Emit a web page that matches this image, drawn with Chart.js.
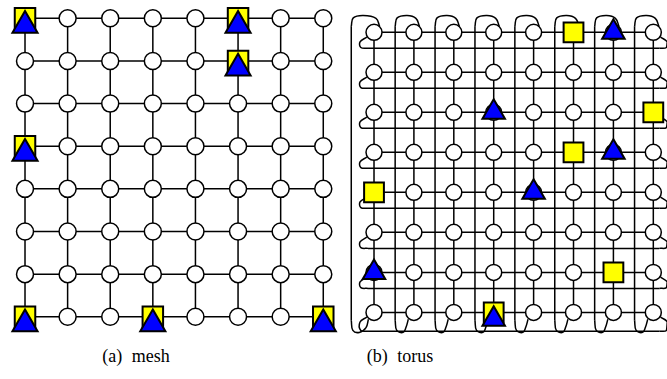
<!DOCTYPE html>
<html>
<head>
<meta charset="utf-8">
<script src="https://cdn.jsdelivr.net/npm/chart.js@4.4.1/dist/chart.umd.min.js"></script>
<style>
  body { margin: 0; background: #fff; width: 667px; height: 379px; overflow: hidden; position: relative; }
  canvas { position: absolute; top: 0; }
  #meshChart { left: 0; }
  #torusChart { left: 345px; }
  .caption {
    position: absolute; top: 347px; width: 200px; margin-left: -100px;
    text-align: center; font-family: "Liberation Serif", "Times New Roman", serif;
    font-size: 18px; line-height: 18px; word-spacing: 5px; color: #000;
  }
</style>
</head>
<body>
<canvas id="meshChart" width="345" height="340"></canvas>
<canvas id="torusChart" width="322" height="340"></canvas>
<div class="caption" style="left:136px">(a) mesh</div>
<div class="caption" style="left:400px">(b) torus</div>
<script>
// Grid size (8 x 8 nodes)
const cols = [0, 1, 2, 3, 4, 5, 6, 7];
const rows = [0, 1, 2, 3, 4, 5, 6, 7];

// Marked nodes [column, row]
const meshSquares = [[0, 0], [5, 0], [5, 1], [0, 3], [0, 7], [3, 7], [7, 7]];
const meshTriangles = [[0, 0], [5, 0], [5, 1], [0, 3], [0, 7], [3, 7], [7, 7]];
const torusSquares = [[5, 0], [7, 2], [5, 3], [0, 4], [6, 6], [3, 7]];
const torusTriangles = [[6, 0], [3, 2], [6, 3], [4, 4], [0, 6], [3, 7]];

// triangle drawn a bit lower when it shares a node with a square
const TRI_SHIFT = 0.17;

function toPts(list) {
    return list.map(p => ({ x: p[0], y: p[1] }));
}

function shiftedTriangles(tris, squares) {
    return tris.map(t => {
        const shared = squares.some(s => s[0] === t[0] && s[1] === t[1]);
        return { x: t[0], y: t[1] + (shared ? TRI_SHIFT : 0) };
    });
}

function lineSet(data, tension) {
    return {
        data: data,
        showLine: true,
        borderColor: '#000',
        borderWidth: 1.5,
        pointRadius: 0,
        tension: tension || 0,
        fill: false,
        clip: false,
        order: 10
    };
}

// Mesh edges: one line per row and per column
function gridLines() {
    const sets = [];
    rows.forEach(r => sets.push(lineSet(cols.map(c => ({ x: c, y: r })))));
    cols.forEach(c => sets.push(lineSet(rows.map(r => ({ x: c, y: r })))));
    return sets;
}

// Torus wrap-around links
function wrapLines() {
    const sets = [];
    const last = cols.length - 1;
    cols.forEach(c => {
        const x0 = c === 0 ? c - 0.57 : c - 0.47;
        sets.push(lineSet([{ x: x0, y: -0.15 }, { x: x0, y: 7.2 }]));
        sets.push(lineSet([
            { x: x0, y: -0.15 }, { x: x0 + 0.05, y: -0.36 }, { x: x0 + 0.3, y: -0.42 },
            { x: c + 0.05, y: -0.35 }, { x: c + 0.14, y: -0.15 }
        ], 0.4));
        sets.push(lineSet([
            { x: x0, y: 7.2 }, { x: x0 + 0.04, y: 7.45 }, { x: x0 + 0.2, y: 7.5 },
            { x: c - 0.2, y: 7.38 }, { x: c - 0.14, y: 7.17 }
        ], 0.4));
    });
    rows.forEach(r => {
        const y0 = r === 7 ? r + 0.47 : r + 0.4;
        sets.push(lineSet([{ x: -0.15, y: y0 }, { x: last + 0.15, y: y0 }]));
        sets.push(lineSet([
            { x: -0.18, y: r + 0.12 }, { x: -0.35, y: r + 0.24 },
            { x: -0.33, y: y0 - 0.02 }, { x: -0.15, y: y0 }
        ], 0.4));
        sets.push(lineSet([
            { x: last + 0.15, y: y0 }, { x: last + 0.33, y: y0 - 0.02 },
            { x: last + 0.35, y: r + 0.24 }, { x: last + 0.18, y: r + 0.12 }
        ], 0.4));
    });
    return sets;
}

function nodeSet(radius) {
    const pts = [];
    rows.forEach(r => cols.forEach(c => pts.push({ x: c, y: r })));
    return {
        data: pts, pointStyle: 'circle', pointRadius: radius,
        backgroundColor: '#fff', borderColor: '#000', borderWidth: 1.5,
        showLine: false, clip: false, order: 5
    };
}

function markerSet(data, style, radius, color, order) {
    return {
        data: data, pointStyle: style, pointRadius: radius,
        backgroundColor: color, borderColor: '#000', borderWidth: 2,
        showLine: false, clip: false, order: order
    };
}

function makeChart(id, datasets, xr, yr) {
    return new Chart(document.getElementById(id), {
        type: 'scatter',
        data: { datasets: datasets },
        options: {
            responsive: false,
            animation: false,
            events: [],
            layout: { padding: 0, autoPadding: false },
            plugins: { legend: { display: false }, tooltip: { enabled: false } },
            scales: {
                x: { type: 'linear', display: false, min: xr[0], max: xr[1] },
                y: { type: 'linear', display: false, reverse: true, min: yr[0], max: yr[1] }
            }
        }
    });
}

makeChart('meshChart', [
    ...gridLines(),
    nodeSet(8.5),
    markerSet(toPts(meshSquares), 'rect', 14.5, '#ffff00', 2),
    markerSet(shiftedTriangles(meshTriangles, meshSquares), 'triangle', 14.5, '#0000ff', 1)
], [-0.587, 7.51], [-0.43, 7.545]);

makeChart('torusChart', [
    ...gridLines(),
    ...wrapLines(),
    nodeSet(8),
    markerSet(toPts(torusSquares), 'rect', 14, '#ffff00', 2),
    markerSet(shiftedTriangles(torusTriangles, torusSquares), 'triangle', 13, '#0000ff', 1)
], [-0.727, 7.343], [-0.808, 7.69]);
</script>
</body>
</html>
